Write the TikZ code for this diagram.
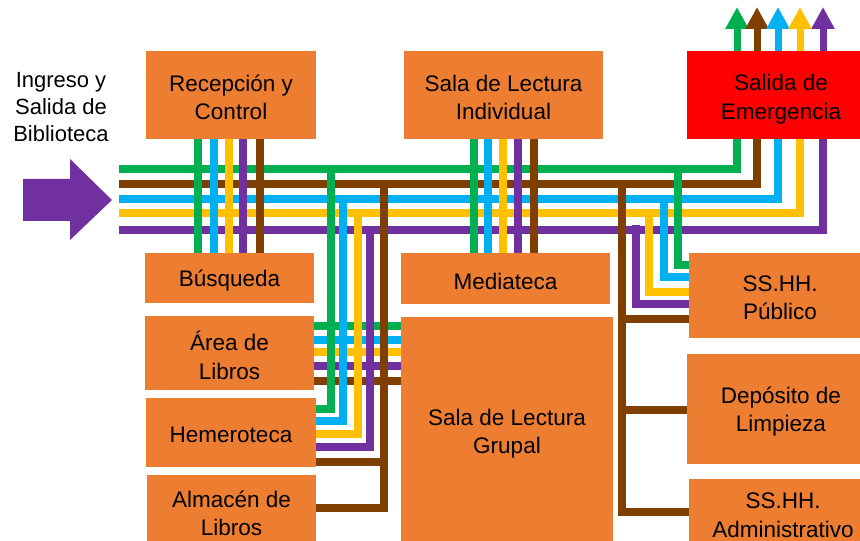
\documentclass[tikz,border=0pt]{standalone}
\usepackage{fontspec}
\setmainfont{Liberation Sans}
\usetikzlibrary{arrows.meta}
\definecolor{cgreen}{HTML}{00B050}
\definecolor{cbrown}{HTML}{7F3F00}
\definecolor{ccyan}{HTML}{00B0F0}
\definecolor{cyellow}{HTML}{FFC000}
\definecolor{cpurple}{HTML}{7030A0}
\definecolor{corange}{HTML}{ED7D31}
\definecolor{cred}{HTML}{FF0000}
\begin{document}
\begin{tikzpicture}[x=1bp,y=-1bp,
  box/.style={fill=corange, inner sep=0pt},
  txt/.style={align=center, inner sep=0pt, yshift=-2.5bp, font=\fontsize{22.5bp}{28.5bp}\selectfont},
  ln/.style={line width=7.5bp, line cap=butt, line join=miter},
  gr/.style={ln, draw=cgreen},
  br/.style={ln, draw=cbrown},
  cy/.style={ln, draw=ccyan},
  ye/.style={ln, draw=cyellow},
  pu/.style={ln, draw=cpurple},
  upar/.style={-{Triangle[width=22bp,length=22bp]}, line width=7bp}]
\useasboundingbox (0,0) rectangle (860,541);

% boxes
\node[box, minimum width=170bp, minimum height=88bp, label={[txt]center:{Recepción y\\Control}}] (rec) at (231,95) {};
\node[box, minimum width=199bp, minimum height=88bp, label={[txt]center:{Sala de Lectura\\Individual}}] (ind) at (503.5,95) {};
\node[box, fill=cred, minimum width=188bp, minimum height=88bp, label={[txt, yshift=-1.5bp]center:{Salida de\\Emergencia}}] (sal) at (781,95) {};
\node[box, minimum width=169bp, minimum height=50bp, label={[txt]center:{Búsqueda}}] (bus) at (229.5,278) {};
\node[box, minimum width=169bp, minimum height=74bp, label={[txt]center:{Área de\\Libros}}] (area) at (229.5,353) {};
\node[box, minimum width=170bp, minimum height=69bp, label={[txt]center:{Hemeroteca}}] (hem) at (231,432.5) {};
\node[box, minimum width=169bp, minimum height=72bp, label={[txt]center:{Almacén de\\Libros}}] (alm) at (231.5,511) {};
\node[box, minimum width=209bp, minimum height=51bp, label={[txt]center:{Mediateca}}] (med) at (505.5,278.5) {};
\node[box, minimum width=212bp, minimum height=228bp, label={[txt]center:{Sala de Lectura\\Grupal}}] (grp) at (507,431) {};
\node[box, minimum width=182bp, minimum height=85bp, label={[txt]center:{SS.HH.\\Público}}] (pub) at (780,295.5) {};
\node[box, minimum width=188bp, minimum height=110bp, label={[txt]center:{Depósito de\\Limpieza}}] (dep) at (781,409) {};
\node[box, minimum width=188bp, minimum height=68bp, label={[txt]center:{SS.HH.\\Administrativo}}] (adm) at (783,513) {};

% entrance
\node[align=center, font=\fontsize{22bp}{27bp}\selectfont] (ing) at (61,107) {Ingreso y\\Salida de\\Biblioteca};
\fill[cpurple] (23,179) -- (70,179) -- (70,159) -- (112,200) -- (70,240) -- (70,221) -- (23,221) -- cycle;

% main bus to emergency exit
\draw[gr] (119,169) -| (737,0 |- sal.south);
\draw[br] (119,184) -| (757,0 |- sal.south);
\draw[cy] (119,199) -| (778,0 |- sal.south);
\draw[ye] (119,213) -| (800,0 |- sal.south);
\draw[pu] (119,230) -| (823,0 |- sal.south);

% exit arrows
\draw[upar, cgreen] (737,0 |- sal.north) -- (737,7);
\draw[upar, cbrown] (757,0 |- sal.north) -- (757,7);
\draw[upar, ccyan] (778,0 |- sal.north) -- (778,7);
\draw[upar, cyellow] (800,0 |- sal.north) -- (800,7);
\draw[upar, cpurple] (823,0 |- sal.north) -- (823,7);

% links Area de Libros - Sala de Lectura Grupal
\draw[gr] (area.east |- 0,326) -- (grp.west |- 0,326);
\draw[cy] (area.east |- 0,340) -- (grp.west |- 0,340);
\draw[ye] (area.east |- 0,352) -- (grp.west |- 0,352);
\draw[pu] (area.east |- 0,366) -- (grp.west |- 0,366);
\draw[br] (area.east |- 0,381) -- (grp.west |- 0,381);

% Recepcion - Busqueda
\draw[gr] (198,0 |- rec.south) -- (198,0 |- bus.north);
\draw[cy] (214,0 |- rec.south) -- (214,0 |- bus.north);
\draw[ye] (229,0 |- rec.south) -- (229,0 |- bus.north);
\draw[pu] (243,0 |- rec.south) -- (243,0 |- bus.north);
\draw[br] (260,0 |- rec.south) -- (260,0 |- bus.north);

% Sala Individual - Mediateca
\draw[gr] (474,0 |- ind.south) -- (474,0 |- med.north);
\draw[cy] (488,0 |- ind.south) -- (488,0 |- med.north);
\draw[ye] (503,0 |- ind.south) -- (503,0 |- med.north);
\draw[pu] (518,0 |- ind.south) -- (518,0 |- med.north);
\draw[br] (534,0 |- ind.south) -- (534,0 |- med.north);

% left branch to Hemeroteca / Almacen
\draw[gr] (331,165) |- (hem.east |- 0,409);
\draw[cy] (343,195) |- (hem.east |- 0,421);
\draw[ye] (358,209) |- (hem.east |- 0,434);
\draw[pu] (370,226) |- (hem.east |- 0,447);
\draw[br] (384,180) |- (alm.east |- 0,508);
\draw[br] (384,462) -- (hem.east |- 0,462);

% right branch to SS.HH. etc.
\draw[gr] (678,165) |- (pub.west |- 0,265);
\draw[cy] (664,195) |- (pub.west |- 0,277);
\draw[ye] (649,209) |- (pub.west |- 0,292);
\draw[pu] (636,225) |- (pub.west |- 0,304);
\draw[br] (622,180) |- (adm.west |- 0,512);
\draw[br] (622,319) -- (pub.west |- 0,319);
\draw[br] (622,410) -- (dep.west |- 0,410);
\end{tikzpicture}
\end{document}
